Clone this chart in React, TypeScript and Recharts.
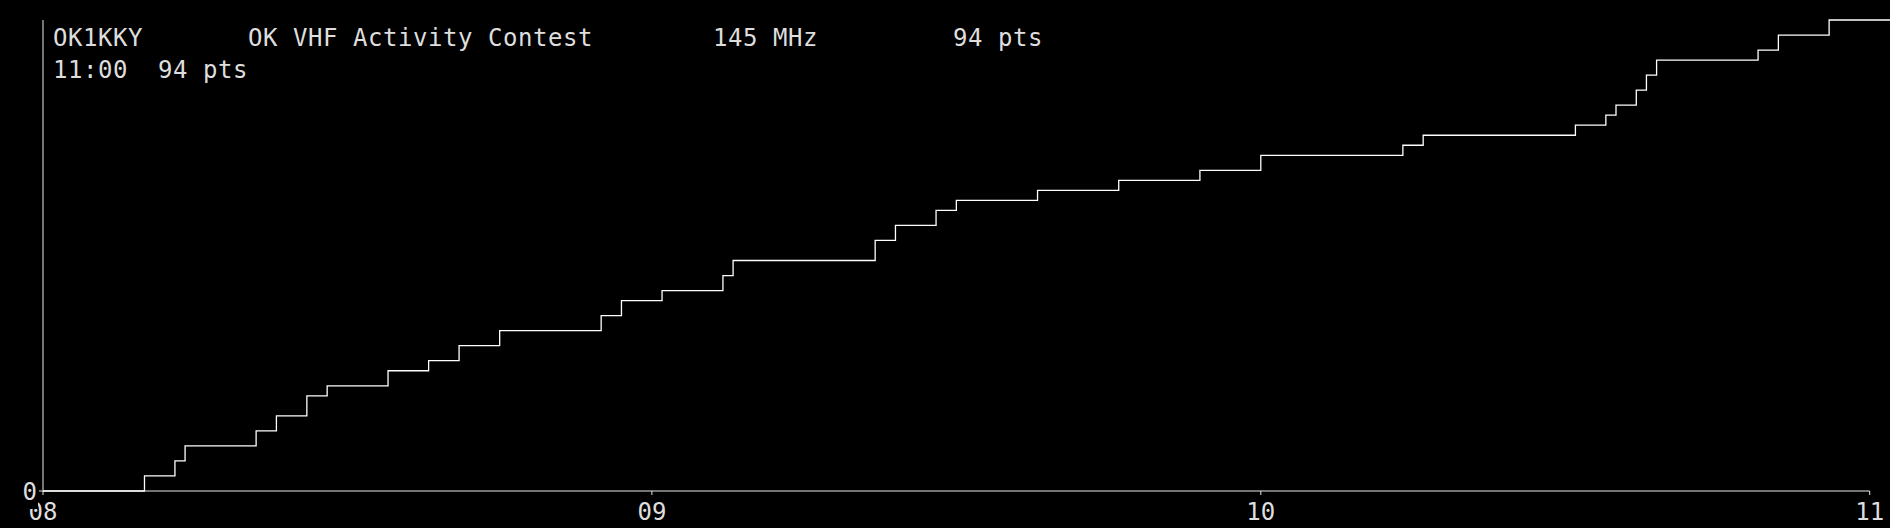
import React from "react";
import { LineChart, Line, XAxis, YAxis, ReferenceLine } from "recharts";

// QSO log: time of each scoring step and cumulative score
const qsoTimes = [
  "08:00", "08:10", "08:13", "08:14", "08:21", "08:23", "08:26", "08:28", "08:34",
  "08:38", "08:41", "08:45", "08:55", "08:57", "09:01", "09:07", "09:08", "09:22",
  "09:24", "09:28", "09:30", "09:38", "09:46", "09:54", "10:00", "10:14", "10:16",
  "10:31", "10:34", "10:35", "10:37", "10:38", "10:39", "10:49", "10:51", "10:56",
  "11:02",
];
const cumulativePoints = [
  0, 3, 6, 9, 12, 15, 19, 21, 24,
  26, 29, 32, 35, 38, 40, 43, 46, 50,
  53, 56, 58, 60, 62, 64, 67, 69, 71,
  73, 75, 77, 80, 83, 86, 88, 91, 94,
  94,
];
const xTickLabels = ["08", "09", "10", "11"];
const yTickValues = [0];
const startHour = 8;
const endTime = "11:02";
const maxPoints = 94;

const headerLine1 = ["OK1KKY", "OK VHF Activity Contest", "145 MHz", "94 pts"];
const headerLine1Cols = [0, 13, 44, 60];
const headerLine2 = ["11:00", "94 pts"];
const headerLine2Cols = [0, 7];

const toMinutes = (hhmm: string) => {
  const [h, m] = hhmm.split(":").map(Number);
  return (h - startHour) * 60 + m;
};

const data = qsoTimes.map((t, i) => ({ t: toMinutes(t), p: cumulativePoints[i] }));
const xTickValues = xTickLabels.map((h) => (Number(h) - startHour) * 60);
const tickLabelMap: Record<number, string> = {};
xTickValues.forEach((v, i) => (tickLabelMap[v] = xTickLabels[i]));

const FONT = "'DejaVu Sans Mono', 'Liberation Mono', monospace";
const TEXT = "#dedede";
const AXIS = "#e8e8e8";
const CHAR_W = 15;

const YTick = (props: any) => {
  const { x, y, payload } = props;
  return (
    <g>
      <rect x={x - 14} y={y - 12} width={15} height={30} fill="#000" />
      <text
        x={x}
        y={y}
        dy="0.355em"
        textAnchor="end"
        fill={TEXT}
        fontFamily={FONT}
        fontSize={24}
      >
        {payload.value}
      </text>
    </g>
  );
};

export default function App() {
  return (
    <div
      style={{
        position: "absolute",
        left: 0,
        top: 0,
        width: 1890,
        height: 528,
        background: "#000",
        overflow: "hidden",
      }}
    >
      <LineChart
        width={1890}
        height={528}
        data={data}
        margin={{ top: 20, right: 0, bottom: 0, left: 0 }}
      >
        <XAxis
          type="number"
          dataKey="t"
          domain={[0, toMinutes(endTime)]}
          ticks={xTickValues}
          tickFormatter={(v: number) => tickLabelMap[v] ?? ""}
          axisLine={false}
          tickLine={{ stroke: AXIS, strokeWidth: 1 }}
          tickSize={4}
          tickMargin={8}
          height={37}
          interval={0}
          tick={{ fill: TEXT, fontFamily: FONT, fontSize: 24 }}
        />
        <YAxis
          type="number"
          domain={[0, maxPoints]}
          ticks={yTickValues}
          width={43}
          axisLine={{ stroke: AXIS, strokeWidth: 1 }}
          tickLine={{ stroke: AXIS, strokeWidth: 1 }}
          tickSize={4}
          tickMargin={2}
          tick={<YTick />}
          interval={0}
        />
        <ReferenceLine
          segment={[
            { x: xTickValues[0], y: 0 },
            { x: xTickValues[xTickValues.length - 1], y: 0 },
          ]}
          stroke={AXIS}
          strokeWidth={1}
        />
        <Line
          type="stepAfter"
          dataKey="p"
          stroke="#ffffff"
          strokeWidth={1.3}
          dot={false}
          activeDot={false}
          isAnimationActive={false}
        />
      </LineChart>
      <svg
        width={1890}
        height={528}
        style={{ position: "absolute", left: 0, top: 0, pointerEvents: "none" }}
      >
        {headerLine1.map((s, i) => (
          <text
            key={"l1" + i}
            x={53 + headerLine1Cols[i] * CHAR_W}
            y={46}
            fill={TEXT}
            fontFamily={FONT}
            fontSize={24}
            letterSpacing={0.55}
            style={{ whiteSpace: "pre" }}
          >
            {s}
          </text>
        ))}
        {headerLine2.map((s, i) => (
          <text
            key={"l2" + i}
            x={53 + headerLine2Cols[i] * CHAR_W}
            y={78}
            fill={TEXT}
            fontFamily={FONT}
            fontSize={24}
            letterSpacing={0.55}
            style={{ whiteSpace: "pre" }}
          >
            {s}
          </text>
        ))}
      </svg>
    </div>
  );
}
